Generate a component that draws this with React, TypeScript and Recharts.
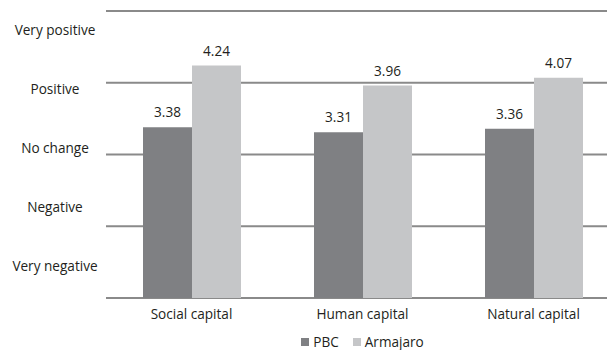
import React from 'react';
import { BarChart, Bar, XAxis, YAxis, CartesianGrid, Legend, LabelList } from 'recharts';

const categories = ['Social capital', 'Human capital', 'Natural capital'];
const pbcValues = [3.38, 3.31, 3.36];
const armajaroValues = [4.24, 3.96, 4.07];
const gridTicks = [1, 2, 3, 4, 5];
const labelTicks = [1.45, 2.27, 3.09, 3.91, 4.73];
const labelNames = ['Very negative', 'Negative', 'No change', 'Positive', 'Very positive'];

const data = categories.map((c, i) => ({ name: c, PBC: pbcValues[i], Armajaro: armajaroValues[i] }));

const FONT = '"Open Sans", sans-serif';
const FS = 13.6;
const TEXT = '#231f20';
const DARK = '#7f8083';
const LIGHT = '#c5c6c8';
const GRID = '#8a8a8a';

const YLabelTick = (props: any) => {
  const { y, payload } = props;
  const idx = labelTicks.indexOf(payload?.value);
  return (
    <text x={55} y={y} dy={4.8} textAnchor="middle" fontFamily={FONT} fontSize={FS} fill={TEXT}>
      {idx >= 0 ? labelNames[idx] : ''}
    </text>
  );
};

const LegendContent = () => {
  const items = [
    { label: 'PBC', color: DARK },
    { label: 'Armajaro', color: LIGHT },
  ];
  return (
    <div style={{ display: 'flex', justifyContent: 'center', alignItems: 'center', height: 16, fontFamily: FONT, fontSize: FS, color: TEXT }}>
      {items.map((it, i) => (
        <div key={i} style={{ display: 'flex', alignItems: 'center', marginRight: i === 0 ? 14 : 0 }}>
          <div style={{ width: 8, height: 8, background: it.color, marginRight: 4 }} />
          <span style={{ lineHeight: '16px' }}>{it.label}</span>
        </div>
      ))}
    </div>
  );
};

export default function App() {
  return (
    <div style={{ position: 'absolute', left: 0, top: 0, width: 607, height: 350, overflow: 'hidden', background: '#fff' }}>
      <BarChart width={619} height={350} data={data} margin={{ top: 11, right: 0, bottom: 0, left: 0 }} barGap={0}>
        <CartesianGrid vertical={false} horizontalValues={gridTicks} stroke={GRID} strokeWidth={2} />
        <XAxis
          dataKey="name"
          axisLine={false}
          tickLine={false}
          tickSize={0}
          tickMargin={11}
          height={36}
          tick={{ fontFamily: FONT, fontSize: FS, fill: TEXT }}
          interval={0}
        />
        <YAxis
          domain={[1, 5]}
          ticks={labelTicks}
          type="number"
          width={106}
          axisLine={false}
          tickLine={false}
          tick={(p: any) => <YLabelTick {...p} />}
          interval={0}
          allowDataOverflow
        />
        <Legend
          verticalAlign="bottom"
          content={() => <LegendContent />}
          wrapperStyle={{ left: 106, width: 513, height: 16, bottom: 0 }}
        />
        <Bar dataKey="PBC" fill={DARK} barSize={49} isAnimationActive={false}>
          <LabelList dataKey="PBC" position="top" offset={10} style={{ fontFamily: FONT, fontSize: FS, fill: TEXT }} formatter={(v: any) => Number(v).toFixed(2)} />
        </Bar>
        <Bar dataKey="Armajaro" fill={LIGHT} barSize={49} isAnimationActive={false}>
          <LabelList dataKey="Armajaro" position="top" offset={10} style={{ fontFamily: FONT, fontSize: FS, fill: TEXT }} formatter={(v: any) => Number(v).toFixed(2)} />
        </Bar>
      </BarChart>
    </div>
  );
}
